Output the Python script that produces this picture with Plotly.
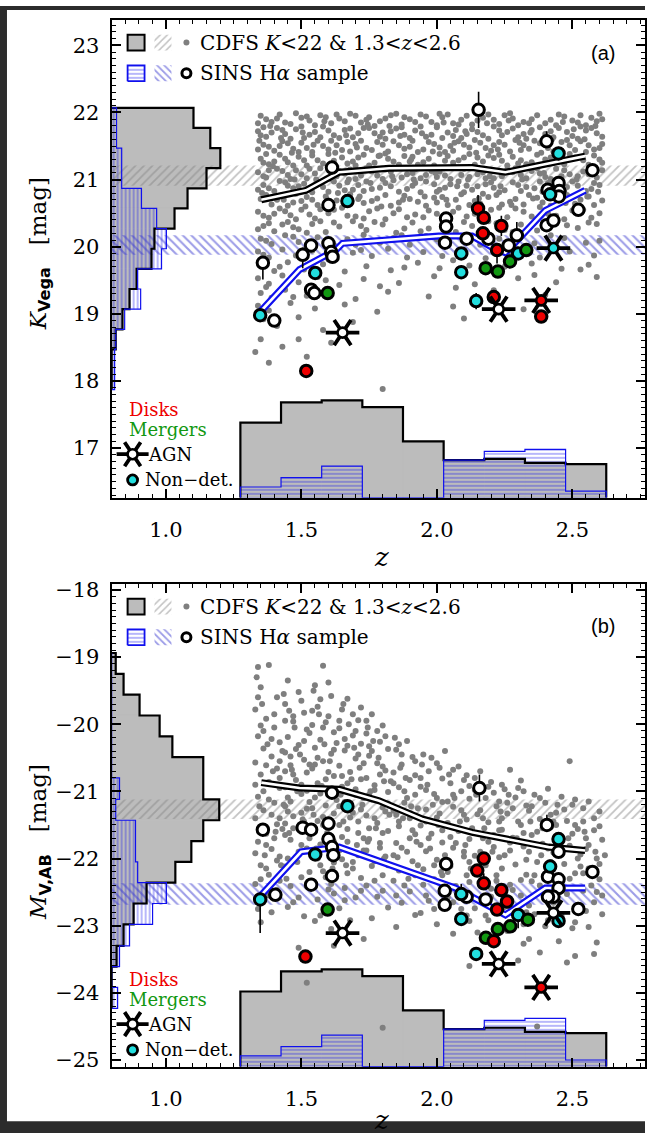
import plotly.graph_objects as go

W, H = 647, 1139

# ---------------- axis ranges ----------------
XR = [0.8, 2.768]
YRA = [16.26, 23.38]
YRB = [-25.10, -17.91]

# ---------------- histogram data ----------------
# redshift histogram (bottom of each panel); heights in axis units above the floor
z_bin_edges = [1.275, 1.425, 1.575, 1.725, 1.875, 2.025, 2.175, 2.325, 2.475, 2.625]
cdfs_zhist = [1.12, 1.42, 1.45, 1.35, 0.84, 0.56, 0.58, 0.52, 0.50]
sins_zhist = [0.16, 0.30, 0.47, 0.0, 0.0, 0.56, 0.69, 0.72, 0.10]

# K-band histogram (left of panel a); lengths in z units
k_bin_edges = [22.07, 21.77, 21.47, 21.17, 20.87, 20.57, 20.27, 19.97, 19.67, 19.37, 19.07, 18.77, 18.47, 18.17, 17.87]
cdfs_khist = [0.302, 0.364, 0.401, 0.350, 0.280, 0.232, 0.158, 0.147, 0.092, 0.066, 0.040, 0.015, 0.0, 0.0]
sins_khist = [0.018, 0.018, 0.037, 0.037, 0.110, 0.166, 0.202, 0.184, 0.096, 0.107, 0.048, 0.015, 0.011, 0.011]

# M_V histogram (left of panel b)
m_bin_edges = [-18.94, -19.25, -19.56, -19.87, -20.18, -20.49, -20.80, -21.12, -21.43, -21.74, -22.05,
               -22.36, -22.67, -22.98, -23.30, -23.61, -23.92, -24.23]
cdfs_mhist = [0.015, 0.044, 0.103, 0.177, 0.224, 0.338, 0.338, 0.397, 0.338, 0.294, 0.235, 0.129, 0.081,
              0.044, 0.018, 0.0, 0.0]
sins_mhist = [0.0, 0.0, 0.0, 0.0, 0.0, 0.0, 0.029, 0.015, 0.088, 0.088, 0.096, 0.202, 0.151, 0.066,
              0.029, 0.0, 0.022]

# median +/- scatter bands
band_a_cdfs = [20.91, 21.21]
band_a_sins = [19.88, 20.17]
band_b_cdfs = [-21.41, -21.12]
band_b_sins = [-22.69, -22.37]

# running medians
med_a_cdfs_z = [1.352, 1.517, 1.640, 1.824, 2.130, 2.253, 2.375, 2.547]
med_a_cdfs_y = [20.70, 20.84, 21.11, 21.17, 21.18, 21.11, 21.21, 21.35]
med_a_sins_z = [1.346, 1.493, 1.627, 1.652, 2.007, 2.130, 2.204, 2.253, 2.314, 2.400, 2.547]
med_a_sins_y = [19.02, 19.66, 19.95, 20.05, 20.16, 20.16, 19.99, 19.91, 20.17, 20.54, 20.84]
med_b_cdfs_z = [1.352, 1.493, 1.640, 1.787, 1.946, 2.130, 2.412, 2.547]
med_b_cdfs_y = [-20.87, -20.95, -20.97, -21.14, -21.41, -21.61, -21.83, -21.88]
med_b_sins_z = [1.346, 1.499, 1.640, 2.068, 2.253, 2.400, 2.547]
med_b_sins_y = [-22.57, -21.90, -21.83, -22.44, -22.84, -22.44, -22.44]

# ---------------- CDFS galaxies (z, K) ----------------
cdfs_a_txt = """
1.35 21.95 1.39 21.86 1.42 21.97 1.46 21.83 1.50 21.92 1.53 21.88 1.57 21.96 1.61 21.84 1.64 21.91 1.68 21.98
1.72 21.85 1.75 21.93 1.79 21.87 1.83 21.96 1.87 21.82 1.90 21.90 1.94 21.97 1.98 21.86 2.02 21.93 2.06 21.84
2.11 21.95 2.15 21.88 2.19 21.97 2.23 21.83 2.28 21.91 2.32 21.86 2.37 21.96 2.42 21.89 2.47 21.94 2.52 21.85
2.57 21.92 2.60 21.98
1.34 21.72 1.37 21.64 1.41 21.77 1.44 21.68 1.48 21.75 1.51 21.62 1.55 21.71 1.58 21.79 1.62 21.66 1.66 21.74
1.69 21.63 1.73 21.77 1.77 21.69 1.81 21.61 1.85 21.76 1.88 21.67 1.92 21.73 1.96 21.64 2.00 21.78 2.04 21.70
2.09 21.62 2.13 21.75 2.17 21.66 2.21 21.79 2.26 21.71 2.30 21.63 2.35 21.74 2.40 21.68 2.45 21.77 2.50 21.65
2.55 21.73 2.59 21.69
1.36 21.52 1.40 21.43 1.43 21.57 1.47 21.46 1.50 21.55 1.54 21.41 1.58 21.50 1.61 21.58 1.65 21.44 1.70 21.53
1.74 21.47 1.78 21.56 1.82 21.42 1.86 21.51 1.91 21.58 1.95 21.45 1.99 21.53 2.03 21.41 2.08 21.57 2.12 21.48
2.16 21.55 2.20 21.43 2.25 21.52 2.29 21.59 2.34 21.46 2.38 21.54 2.43 21.42 2.49 21.51 2.53 21.57 2.58 21.45
2.61 21.53
1.35 21.31 1.38 21.23 1.42 21.37 1.45 21.26 1.49 21.34 1.52 21.21 1.56 21.29 1.60 21.38 1.67 21.24 1.71 21.33
1.75 21.21 1.79 21.36 1.84 21.27 1.88 21.35 1.93 21.22 1.97 21.31 2.01 21.38 2.06 21.25 2.10 21.33 2.14 21.22
2.19 21.36 2.24 21.28 2.28 21.34 2.33 21.23 2.37 21.37 2.46 21.27 2.51 21.33 2.56 21.22 2.60 21.30
1.34 21.11 1.37 21.03 1.41 21.16 1.45 21.07 1.48 21.14 1.52 21.02 1.55 21.09 1.63 21.05 1.68 21.15 1.72 21.06
1.76 21.12 1.80 21.01 1.85 21.17 1.89 21.08 1.94 21.02 1.98 21.13 2.03 21.06 2.07 21.18 2.12 21.04 2.17 21.11
2.21 21.02 2.26 21.15 2.31 21.07 2.35 21.13 2.40 21.04 2.44 21.16 2.49 21.08 2.54 21.12 2.59 21.03
1.36 20.92 1.40 20.83 1.44 20.96 1.47 20.87 1.51 20.94 1.54 20.81 1.58 20.89 1.62 20.97 1.66 20.84 1.71 20.92
1.76 20.86 1.81 20.95 1.86 20.82 1.91 20.91 1.96 20.97 2.01 20.85 2.05 20.93 2.10 20.81 2.15 20.90 2.20 20.96
2.25 20.84 2.30 20.92 2.36 20.87 2.41 20.95 2.47 20.83 2.52 20.91 2.57 20.86
1.35 20.71 1.39 20.63 1.43 20.77 1.47 20.66 1.52 20.74 1.56 20.62 1.63 20.69 1.68 20.78 1.73 20.65 1.78 20.72
1.83 20.61 1.88 20.76 1.93 20.67 1.99 20.73 2.04 20.62 2.09 20.78 2.14 20.68 2.19 20.74 2.24 20.63 2.29 20.71
2.34 20.77 2.39 20.66 2.45 20.72 2.51 20.64 2.56 20.75 2.61 20.69
1.34 20.52 1.38 20.43 1.42 20.57 1.46 20.47 1.50 20.55 1.55 20.42 1.60 20.50 1.65 20.58 1.70 20.45 1.75 20.53
1.81 20.41 1.86 20.56 1.92 20.48 1.97 20.54 2.03 20.43 2.08 20.58 2.14 20.49 2.20 20.55 2.26 20.44 2.32 20.52
2.38 20.59 2.44 20.46 2.50 20.54 2.57 20.43
1.36 20.31 1.40 20.23 1.45 20.37 1.49 20.26 1.54 20.34 1.59 20.22 1.64 20.30 1.69 20.38 1.74 20.25 1.80 20.33
1.85 20.21 1.91 20.36 1.97 20.27 2.02 20.34 2.07 20.22 2.13 20.31 2.19 20.38 2.25 20.25 2.31 20.33 2.37 20.24
2.44 20.36 2.52 20.28 2.59 20.34
1.35 20.12 1.39 20.04 1.44 20.17 1.49 20.07 1.56 20.14 1.62 20.02 1.67 20.11 1.73 20.18 1.79 20.06 1.84 20.13
1.90 20.03 1.96 20.16 2.03 20.08 2.09 20.14 2.16 20.03 2.23 20.12 2.30 20.18 2.36 20.05 2.47 20.13 2.55 20.06
1.34 19.93 1.38 19.84 1.43 19.96 1.48 19.87 1.54 19.94 1.63 19.82 1.69 19.91 1.76 19.86 1.82 19.97 1.89 19.84
1.95 19.92 2.02 19.86 2.10 19.95 2.18 19.83 2.27 19.91 2.38 19.84 2.49 19.93 2.58 19.87
1.35 19.72 1.40 19.64 1.45 19.77 1.51 19.66 1.58 19.74 1.66 19.63 1.74 19.71 1.83 19.65 1.93 19.76 2.01 19.68
2.12 19.72 2.21 19.64 2.35 19.75 2.46 19.67 2.56 19.73
1.34 19.53 1.38 19.45 1.43 19.57 1.49 19.47 1.56 19.55 1.64 19.43 1.73 19.52 1.86 19.46 1.99 19.56 2.14 19.44
2.30 19.53 2.44 19.47 2.59 19.55
1.35 19.31 1.39 19.24 1.44 19.36 1.52 19.27 1.61 19.34 1.70 19.22 1.82 19.33 1.97 19.26 2.21 19.35 2.40 19.28
1.34 19.12 1.38 19.05 1.46 19.16 1.55 19.08 1.66 19.14 1.78 19.03 2.06 19.11 2.32 19.07
1.36 18.92 1.41 18.82 1.49 18.95 1.58 18.76 1.69 18.88 2.10 18.93
1.35 18.62 1.43 18.51 1.52 18.36 1.61 18.57 1.38 18.27 1.33 18.43 1.49 18.62 1.80 17.88
1.37 21.90 1.44 21.85 1.48 21.99 1.55 21.81 1.59 21.93 1.66 21.87 1.70 21.95 1.77 21.80 1.81 21.91 1.85 21.98
1.92 21.86 1.96 21.94 2.00 21.81 2.04 21.97 2.09 21.89 2.13 21.82 2.17 21.92 2.25 21.96 2.30 21.81 2.35 21.90
2.40 21.84 2.45 21.97 2.50 21.88 2.55 21.81 2.59 21.87
1.36 21.78 1.39 21.70 1.46 21.61 1.53 21.67 1.60 21.73 1.64 21.62 1.71 21.69 1.75 21.77 1.79 21.64 1.83 21.72
1.90 21.62 1.94 21.79 1.98 21.67 2.02 21.62 2.07 21.74 2.11 21.68 2.19 21.61 2.24 21.66 2.28 21.76 2.33 21.61
2.38 21.78 2.43 21.63 2.48 21.71 2.53 21.79 2.61 21.64
1.38 21.49 1.45 21.54 1.52 21.47 1.56 21.58 1.63 21.51 1.68 21.42 1.72 21.58 1.76 21.44 1.80 21.52 1.88 21.46
1.93 21.41 1.97 21.56 2.01 21.48 2.06 21.43 2.10 21.52 2.14 21.59 2.18 21.47 2.23 21.56 2.27 21.42 2.32 21.51
2.36 21.58 2.41 21.47 2.46 21.56 2.51 21.44 2.56 21.51
1.37 21.38 1.40 21.27 1.47 21.21 1.54 21.36 1.58 21.24 1.65 21.33 1.69 21.27 1.73 21.37 1.77 21.25 1.82 21.31
1.86 21.22 1.91 21.34 1.95 21.26 1.99 21.21 2.04 21.35 2.08 21.29 2.12 21.38 2.17 21.27 2.21 21.32 2.26 21.21
2.31 21.29 2.35 21.26 2.42 21.33 2.49 21.38 2.54 21.29 2.58 21.36
1.36 21.05 1.43 21.13 1.50 21.08 1.57 21.17 1.61 21.01 1.66 21.09 1.74 21.17 1.78 21.06 1.83 21.12 1.87 21.03
1.92 21.15 1.96 21.07 2.01 21.12 2.05 21.01 2.10 21.16 2.15 21.08 2.19 21.14 2.24 21.05 2.29 21.17 2.33 21.02
2.38 21.09 2.42 21.01 2.47 21.14 2.52 21.05 2.57 21.16
1.38 20.87 1.42 20.98 1.49 20.90 1.56 20.95 1.60 20.82 1.64 20.91 1.69 20.85 1.74 20.97 1.79 20.88 1.84 20.99
1.89 20.86 1.94 20.81 1.99 20.93 2.03 20.88 2.08 20.97 2.13 20.85 2.18 20.93 2.23 20.81 2.28 20.96 2.33 20.89
2.39 20.82 2.44 20.91 2.50 20.97 2.55 20.83 2.60 20.92
1.37 20.77 1.45 20.61 1.50 20.68 1.59 20.75 1.66 20.64 1.71 20.71 1.81 20.77 1.86 20.66 1.96 20.61 2.02 20.74
2.12 20.62 2.17 20.79 2.27 20.67 2.37 20.73 2.42 20.61 2.48 20.77 2.58 20.62
1.36 20.46 1.44 20.53 1.53 20.48 1.62 20.55 1.73 20.42 1.84 20.50 1.95 20.44 2.06 20.52 2.17 20.41 2.29 20.57
2.41 20.49 2.54 20.55
1.38 20.35 1.47 20.29 1.57 20.38 1.72 20.31 1.88 20.27 2.05 20.29 2.22 20.35 2.41 20.27 2.56 20.36
1.34 21.84 1.41 21.91 1.52 21.94 1.63 21.97 1.74 21.89 1.88 21.93 2.01 21.98 2.08 21.82 2.21 21.89 2.27 21.99
2.34 21.84 2.44 21.81 2.53 21.96 2.61 21.90
1.35 21.66 1.43 21.74 1.50 21.79 1.57 21.63 1.68 21.76 1.80 21.70 1.87 21.78 2.06 21.65 2.15 21.71 2.23 21.73
2.32 21.68 2.42 21.72 2.52 21.61 2.57 21.77
1.34 21.45 1.42 21.50 1.49 21.41 1.60 21.45 1.67 21.56 1.84 21.57 1.90 21.49 2.05 21.50 2.21 21.51 2.31 21.44
2.40 21.55 2.48 21.59 2.55 21.41 2.60 21.47
1.36 21.25 1.44 21.31 1.51 21.29 1.62 21.28 1.70 21.21 1.81 21.39 1.90 21.27 2.03 21.28 2.15 21.33 2.23 21.37
2.30 21.24 2.40 21.30 2.47 21.23 2.61 21.25
1.38 21.14 1.46 21.01 1.53 21.16 1.64 21.13 1.70 21.01 1.81 21.15 1.91 21.10 2.00 21.04 2.09 21.07 2.18 21.02
2.28 21.11 2.37 21.17 2.46 21.05 2.56 21.08 2.61 21.14
1.34 20.85 1.45 20.91 1.53 20.86 1.67 20.96 1.73 20.83 1.83 20.90 1.92 20.95 2.00 20.82 2.11 20.91 2.21 20.88
2.31 20.83 2.38 20.97 2.48 20.89 2.58 20.95
1.41 20.70 1.48 20.79 1.54 20.70 1.61 20.63 1.76 20.68 1.90 20.71 2.00 20.66 2.07 20.70 2.16 20.64 2.22 20.77
2.32 20.63 2.44 20.79 2.53 20.70
1.40 20.49 1.48 20.41 1.57 20.56 1.67 20.46 1.78 20.57 1.89 20.44 2.00 20.49 2.11 20.45 2.23 20.58 2.35 20.45
2.47 20.41 2.60 20.50
1.34 20.26 1.43 20.33 1.52 20.21 1.62 20.36 1.77 20.37 1.94 20.23 2.10 20.37 2.28 20.22 2.48 20.32
1.37 20.09 1.47 20.15 1.59 20.08 1.70 20.03 1.87 20.17 2.00 20.11 2.20 20.08 2.42 20.17 2.60 20.09
1.36 19.88 1.42 19.70 1.51 19.96 1.60 19.81 1.72 19.95 1.88 19.69 2.06 19.80 2.25 19.70 2.43 19.96 2.53 19.66
1.37 19.40 1.47 19.25 1.59 19.50 1.79 19.41 2.07 19.39 2.36 19.58
1.345 21.58 1.385 21.80 1.425 21.62 1.465 21.40 1.505 21.70 1.545 21.52 1.585 21.87 1.625 21.40 1.665 21.66
1.705 21.48 1.745 21.82 1.785 21.35 1.825 21.80 1.865 21.65 1.905 21.30 1.945 21.69 1.985 21.42 2.025 21.85
2.065 21.55 2.105 21.72 2.145 21.40 2.185 21.84 2.225 21.45 2.265 21.88 2.305 21.55 2.345 21.70 2.385 21.40
2.425 21.60 2.465 21.86 2.505 21.75 2.545 21.60 2.585 21.80
1.355 20.80 1.395 21.20 1.435 20.70 1.475 21.00 1.515 20.60 1.555 21.00 1.595 20.70 1.635 20.80 1.675 21.00
1.715 20.75 1.755 20.95 1.795 20.60 1.835 21.05 1.875 20.70 1.915 21.00 1.955 20.75 1.995 21.10 2.035 20.70
2.075 20.90 2.115 21.00 2.155 20.72 2.195 21.05 2.235 20.90 2.275 20.62 2.315 21.00 2.355 20.72 2.395 21.10
2.435 20.85 2.475 20.65 2.515 21.00 2.555 20.75 2.595 20.82
"""

cdfs_b_txt = """
1.34 -19.15 1.38 -19.12 1.35 -19.45 1.41 -19.60 1.33 -19.78 1.37 -19.92 1.40 -20.05 1.34 -20.18 1.42 -20.27
1.36 -20.36 1.39 -20.48 1.33 -20.57 1.41 -20.66 1.35 -20.75 1.38 -20.86 1.42 -20.95 1.34 -21.08 1.40 -21.17
1.36 -21.28 1.33 -21.40 1.41 -21.49 1.37 -21.63 1.34 -21.75 1.39 -21.86 1.42 -21.97 1.35 -22.10 1.38 -22.24
1.33 -22.38 1.41 -22.47 1.36 -22.62 1.39 -22.80 1.35 -22.95
1.45 -19.35 1.49 -19.52 1.44 -19.70 1.51 -19.83 1.47 -19.96 1.52 -20.08 1.45 -20.19 1.49 -20.31 1.44 -20.42
1.51 -20.53 1.46 -20.61 1.52 -20.72 1.48 -20.83 1.44 -20.94 1.50 -21.04 1.46 -21.15 1.52 -21.26 1.47 -21.37
1.44 -21.48 1.50 -21.60 1.46 -21.72 1.52 -21.85 1.48 -21.98 1.44 -22.12 1.50 -22.28 1.46 -22.41 1.49 -22.58
1.45 -22.72 1.51 -22.86
1.58 -19.13 1.55 -19.42 1.61 -19.58 1.56 -19.74 1.60 -19.88 1.54 -20.01 1.62 -20.12 1.57 -20.23 1.55 -20.35
1.61 -20.44 1.58 -20.55 1.54 -20.66 1.62 -20.77 1.56 -20.88 1.60 -20.97 1.55 -21.09 1.59 -21.21 1.62 -21.33
1.56 -21.44 1.54 -21.58 1.61 -21.67 1.57 -21.79 1.55 -21.93 1.62 -22.06 1.58 -22.19 1.54 -22.33 1.60 -22.46
1.56 -22.61 1.59 -22.77 1.55 -22.93 1.61 -23.05
1.67 -19.62 1.65 -19.78 1.71 -19.94 1.64 -20.06 1.69 -20.17 1.72 -20.29 1.66 -20.39 1.70 -20.51 1.64 -20.62
1.68 -20.71 1.72 -20.82 1.65 -20.93 1.70 -21.05 1.66 -21.16 1.72 -21.27 1.68 -21.39 1.64 -21.50 1.71 -21.62
1.67 -21.75 1.73 -21.88 1.65 -22.01 1.69 -22.15 1.72 -22.29 1.66 -22.44 1.70 -22.58 1.64 -22.74 1.68 -22.92
1.76 -19.85 1.80 -20.02 1.74 -20.14 1.79 -20.26 1.82 -20.37 1.75 -20.47 1.78 -20.58 1.81 -20.69 1.74 -20.80
1.77 -20.91 1.82 -21.01 1.76 -21.12 1.80 -21.24 1.74 -21.36 1.78 -21.47 1.82 -21.59 1.75 -21.71 1.79 -21.84
1.81 -21.97 1.76 -22.11 1.80 -22.25 1.74 -22.40 1.78 -22.57 1.82 -22.73 1.76 -22.89
1.89 -20.25 1.85 -20.38 1.91 -20.49 1.87 -20.60 1.84 -20.72 1.90 -20.83 1.86 -20.94 1.92 -21.05 1.88 -21.17
1.84 -21.29 1.90 -21.40 1.86 -21.52 1.92 -21.64 1.85 -21.77 1.89 -21.90 1.91 -22.04 1.86 -22.18 1.84 -22.33
1.90 -22.49 1.87 -22.66 1.92 -22.84 1.85 -23.02
1.95 -20.45 2.00 -20.58 1.97 -20.70 2.02 -20.81 1.94 -20.93 1.99 -21.04 2.02 -21.16 1.96 -21.27 2.00 -21.39
1.94 -21.51 1.98 -21.63 2.02 -21.76 1.96 -21.89 2.00 -22.02 1.95 -22.16 1.99 -22.31 2.02 -22.47 1.97 -22.63
1.94 -22.81 2.00 -22.98
2.03 -20.40 2.08 -20.63 2.11 -20.76 2.05 -20.88 2.09 -21.00 2.12 -21.11 2.06 -21.23 2.10 -21.35 2.04 -21.47
2.08 -21.59 2.12 -21.71 2.06 -21.84 2.10 -21.97 2.05 -22.11 2.11 -22.25 2.07 -22.41 2.04 -22.58 2.09 -22.75
2.12 -22.93 2.06 -23.12
2.16 -20.70 2.20 -20.86 2.14 -20.98 2.18 -21.10 2.22 -21.22 2.15 -21.34 2.19 -21.46 2.23 -21.58 2.17 -21.70
2.21 -21.83 2.14 -21.96 2.18 -22.10 2.22 -22.25 2.16 -22.40 2.20 -22.57 2.14 -22.74 2.19 -22.92 2.15 -23.10
2.21 -23.28
2.27 -20.68 2.31 -20.84 2.25 -20.97 2.29 -21.09 2.33 -21.21 2.26 -21.33 2.30 -21.45 2.24 -21.57 2.28 -21.69
2.32 -21.82 2.25 -21.95 2.29 -22.09 2.33 -22.24 2.27 -22.39 2.31 -22.55 2.25 -22.72 2.30 -22.90 2.26 -23.08
2.32 -23.27
2.41 -20.96 2.36 -21.05 2.40 -21.17 2.34 -21.29 2.38 -21.41 2.42 -21.53 2.35 -21.65 2.39 -21.78 2.43 -21.91
2.37 -22.05 2.41 -22.19 2.35 -22.34 2.39 -22.50 2.43 -22.66 2.36 -22.83 2.40 -23.01 2.34 -23.20 2.38 -23.40
2.49 -20.55 2.46 -21.08 2.50 -21.20 2.44 -21.32 2.48 -21.44 2.52 -21.56 2.45 -21.68 2.49 -21.81 2.53 -21.94
2.47 -22.08 2.51 -22.22 2.44 -22.37 2.48 -22.53 2.52 -22.69 2.46 -22.86 2.50 -23.04 2.45 -23.23 2.51 -23.45
2.56 -21.15 2.60 -21.30 2.54 -21.45 2.58 -21.58 2.61 -21.72 2.55 -21.86 2.59 -22.00 2.56 -22.15 2.60 -22.31
2.54 -22.48 2.58 -22.65 2.61 -22.83 2.56 -23.02 2.59 -23.25
1.35 -20.02 1.39 -20.22 1.43 -20.40 1.37 -20.61 1.42 -20.80 1.36 -21.00 1.44 -21.22 1.39 -21.35 1.43 -21.56
1.37 -21.80 1.41 -22.03 1.35 -22.31 1.47 -19.88 1.53 -20.13 1.48 -20.37 1.53 -20.60 1.47 -20.75 1.52 -20.99
1.45 -21.09 1.50 -21.32 1.47 -21.55 1.53 -21.70 1.49 -21.90 1.53 -22.20 1.57 -19.63 1.59 -19.97 1.63 -20.28
1.56 -20.50 1.60 -20.71 1.57 -21.03 1.63 -21.13 1.58 -21.38 1.60 -21.55 1.63 -21.87 1.57 -22.10 1.61 -22.38
1.69 -19.85 1.66 -20.22 1.71 -20.45 1.67 -20.88 1.73 -21.10 1.69 -21.32 1.65 -21.68 1.71 -21.95 1.67 -22.22
1.78 -20.10 1.75 -20.33 1.80 -20.63 1.77 -20.98 1.81 -21.30 1.75 -21.55 1.79 -21.77 1.77 -22.04
1.87 -20.45 1.92 -20.76 1.88 -21.00 1.85 -21.35 1.91 -21.58 1.87 -21.84 1.93 -22.10
2.01 -20.65 1.96 -20.98 2.01 -21.33 1.97 -21.70 2.03 -21.95 1.95 -22.39
2.10 -20.83 2.06 -21.05 2.11 -21.42 2.07 -21.77 2.12 -22.05 2.09 -22.50
2.19 -20.93 2.23 -21.15 2.17 -21.40 2.21 -21.65 2.16 -21.90 2.22 -22.33 2.18 -22.85
2.30 -20.95 2.26 -21.17 2.31 -21.50 2.27 -21.76 2.33 -22.02 2.28 -22.47 2.32 -22.98
2.38 -21.10 2.42 -21.35 2.37 -21.60 2.41 -21.85 2.36 -22.25 2.42 -22.58
2.47 -21.27 2.51 -21.50 2.46 -21.75 2.52 -22.00 2.47 -22.45 2.53 -22.80
2.58 -21.40 2.55 -21.70 2.60 -22.08 2.57 -22.40 2.61 -22.55
1.80 -24.52 2.37 -24.50 1.52 -23.85 1.49 -23.33 2.12 -23.60 2.58 -23.42 2.30 -23.52 2.48 -23.55 1.73 -23.20
1.62 -23.30
1.34 -19.60 1.40 -19.85 1.36 -20.10 1.42 -20.55 1.33 -20.90 1.38 -21.12 1.42 -21.40 1.35 -21.58 1.40 -21.70
1.33 -21.92 1.37 -22.15 1.42 -22.33 1.38 -22.55 1.34 -22.75
1.50 -19.65 1.44 -19.95 1.51 -20.25 1.46 -20.48 1.44 -20.70 1.50 -20.90 1.53 -21.16 1.45 -21.30 1.51 -21.45
1.44 -21.65 1.50 -21.80 1.45 -22.00 1.52 -22.40 1.47 -22.65
1.60 -19.38 1.54 -19.80 1.58 -20.05 1.62 -20.38 1.55 -20.60 1.59 -20.82 1.62 -21.00 1.54 -21.25 1.58 -21.50
1.62 -21.75 1.56 -22.00 1.59 -22.28 1.62 -22.52 1.57 -22.85
1.72 -19.75 1.64 -19.95 1.70 -20.10 1.67 -20.32 1.73 -20.58 1.65 -20.77 1.70 -20.97 1.64 -21.22 1.71 -21.45
1.67 -21.56 1.73 -21.70 1.64 -21.88 1.69 -22.05 1.72 -22.48 1.66 -22.62
1.74 -19.95 1.81 -20.18 1.76 -20.40 1.79 -20.75 1.83 -20.85 1.75 -21.05 1.82 -21.18 1.77 -21.40 1.80 -21.62
1.74 -21.88 1.82 -22.10 1.77 -22.33 1.80 -22.48
1.86 -20.30 1.92 -20.55 1.84 -20.88 1.89 -21.10 1.93 -21.25 1.86 -21.45 1.90 -21.70 1.84 -21.95 1.92 -22.25
1.88 -22.40 1.85 -22.55
1.98 -20.50 1.94 -20.80 2.00 -21.10 1.96 -21.45 2.02 -21.58 1.94 -21.80 1.99 -22.10 2.02 -22.25 1.96 -22.55
1.99 -22.75
2.06 -20.68 2.12 -20.92 2.04 -21.15 2.09 -21.28 2.13 -21.55 2.05 -21.68 2.10 -21.90 2.04 -22.20 2.12 -22.35
2.06 -22.65 2.11 -22.85
2.14 -20.80 2.21 -21.02 2.16 -21.28 2.23 -21.45 2.14 -21.62 2.19 -21.75 2.23 -21.98 2.15 -22.20 2.20 -22.45
2.17 -22.65 2.22 -23.00
2.24 -20.90 2.32 -21.00 2.28 -21.25 2.24 -21.40 2.32 -21.62 2.27 -21.88 2.24 -22.15 2.31 -22.32 2.26 -22.60
2.33 -22.80
2.35 -21.22 2.43 -21.45 2.39 -21.55 2.34 -21.90 2.42 -22.05 2.38 -22.40 2.34 -22.70 2.41 -22.92
2.51 -21.12 2.44 -21.50 2.50 -21.63 2.45 -21.90 2.53 -22.12 2.49 -22.30 2.44 -22.62 2.51 -22.95
2.54 -21.25 2.60 -21.52 2.56 -21.80 2.62 -21.95 2.54 -22.22 2.59 -22.50 2.55 -22.78
1.335 -19.30 1.355 -19.70 1.375 -20.30 1.395 -20.70 1.345 -21.22 1.405 -21.60 1.365 -21.95 1.425 -22.10
1.385 -22.40 1.435 -19.55 1.455 -19.80 1.475 -20.05 1.495 -20.45 1.465 -20.68 1.485 -21.00 1.435 -21.20
1.505 -21.42 1.455 -21.62 1.485 -22.05 1.445 -22.30 1.545 -19.50 1.565 -19.85 1.585 -20.30 1.605 -20.55
1.575 -20.92 1.625 -21.05 1.545 -21.35 1.595 -21.62 1.555 -21.85 1.615 -22.15 1.655 -19.70 1.675 -20.00
1.695 -20.35 1.715 -20.65 1.685 -20.82 1.645 -21.05 1.725 -21.20 1.655 -21.45 1.705 -21.80 1.665 -22.10
1.745 -20.05 1.765 -20.25 1.785 -20.50 1.805 -20.85 1.755 -21.00 1.825 -21.35 1.775 -21.55 1.745 -21.75
1.805 -22.00 1.845 -20.20 1.865 -20.65 1.885 -20.80 1.905 -21.22 1.875 -21.40 1.925 -21.75 1.855 -21.98
1.895 -22.30 1.945 -20.60 1.965 -20.90 1.985 -21.20 2.005 -21.50 1.975 -21.85 2.015 -22.20 2.045 -20.75
2.065 -21.10 2.085 -21.45 2.105 -21.80 2.125 -22.15 2.145 -21.05 2.175 -21.55 2.205 -21.90 2.235 -21.30
2.265 -21.05 2.295 -21.70 2.345 -21.45 2.385 -21.95 2.445 -21.20 2.485 -21.70 2.545 -21.60 2.585 -21.90
"""

# ---------------- SINS galaxies: (z, value, err_plus, err_minus) ----------------
sins_a_open = [(2.154, 22.04, 0.27, 0.27), (2.405, 21.57, 0.15, 0.0), (1.613, 21.18, 0, 0), (2.574, 21.14, 0, 0),
               (1.600, 20.62, 0, 0), (2.449, 20.95, 0, 0), (2.452, 20.83, 0, 0), (2.409, 20.85, 0, 0),
               (2.450, 20.75, 0, 0), (2.522, 20.55, 0, 0), (2.405, 20.32, 0, 0), (2.430, 20.39, 0, 0),
               (2.034, 20.42, 0, 0), (2.034, 20.30, 0, 0), (2.030, 20.06, 0, 0), (2.110, 20.12, 0, 0),
               (2.295, 20.17, 0.2, 0.0), (2.265, 20.02, 0, 0), (2.190, 20.12, 0, 0), (1.600, 20.05, 0, 0),
               (1.610, 19.92, 0, 0), (1.615, 19.85, 0, 0), (1.536, 20.02, 0, 0), (1.505, 19.88, 0.0, 0.2),
               (1.358, 19.76, 0.0, 0.25), (1.536, 19.36, 0, 0), (1.548, 19.31, 0, 0), (1.400, 18.90, 0, 0)]
sins_a_cyan = [(1.348, 18.98, 0, 0), (1.551, 19.61, 0, 0), (1.670, 20.68, 0, 0), (2.090, 19.90, 0, 0),
               (2.090, 19.62, 0, 0), (2.300, 19.90, 0, 0), (2.145, 19.19, 0.12, 0.12), (2.418, 20.78, 0, 0),
               (2.449, 21.39, 0.1, 0.1)]
sins_a_green = [(1.597, 19.31, 0, 0), (2.180, 19.68, 0, 0), (2.225, 19.63, 0, 0), (2.270, 19.78, 0, 0),
                (2.330, 19.95, 0, 0)]
sins_a_red = [(2.152, 20.57, 0.2, 0.0), (2.173, 20.43, 0, 0), (2.238, 20.31, 0.15, 0.15), (2.170, 20.20, 0, 0),
              (2.222, 19.95, 0.0, 0.2), (2.210, 19.25, 0, 0), (2.385, 18.96, 0, 0), (1.518, 18.15, 0, 0)]
sins_a_agn = [(1.652, 18.72, "white"), (2.228, 19.07, "white"), (2.385, 19.20, "red"), (2.430, 19.98, "cyan")]

sins_b_open = [(2.157, -20.95, 0.2, 0.2), (1.613, -21.02, 0, 0), (1.358, -21.57, 0, 0), (1.505, -21.54, 0, 0),
               (1.536, -21.57, 0, 0), (1.600, -21.48, 0, 0), (1.600, -21.71, 0, 0), (1.613, -21.83, 0, 0),
               (1.618, -21.95, 0, 0), (1.613, -22.26, 0, 0), (1.536, -22.39, 0, 0), (1.404, -22.54, 0, 0),
               (2.406, -21.50, 0.15, 0.0), (2.449, -21.90, 0, 0), (2.574, -22.20, 0, 0), (2.034, -22.08, 0, 0),
               (2.029, -22.48, 0, 0), (2.029, -22.69, 0, 0), (2.110, -22.57, 0, 0), (2.180, -22.61, 0, 0),
               (2.410, -22.27, 0, 0), (2.449, -22.31, 0, 0), (2.449, -22.44, 0, 0), (2.430, -22.57, 0, 0),
               (2.410, -22.57, 0, 0), (2.522, -22.75, 0, 0)]
sins_b_cyan = [(1.348, -22.61, 0.0, 0.5), (1.551, -21.94, 0, 0), (1.670, -21.22, 0, 0), (2.090, -22.53, 0.15, 0.0),
               (2.090, -22.90, 0, 0), (2.145, -23.42, 0, 0), (2.300, -22.84, 0.0, 0.2), (2.418, -22.12, 0, 0),
               (2.449, -21.71, 0, 0), (2.449, -22.93, 0, 0)]
sins_b_green = [(1.597, -22.76, 0, 0), (2.225, -23.05, 0, 0), (2.181, -23.18, 0, 0), (2.271, -23.01, 0, 0),
                (2.336, -22.91, 0, 0)]
sins_b_red = [(1.515, -23.46, 0, 0), (2.173, -22.00, 0, 0), (2.149, -22.18, 0, 0), (2.173, -22.37, 0.15, 0.0),
              (2.238, -22.47, 0, 0), (2.259, -22.64, 0, 0), (2.222, -22.76, 0, 0), (2.210, -23.23, 0, 0)]
sins_b_agn = [(1.652, -23.11, "white"), (2.430, -22.81, "white"), (2.228, -23.57, "white"), (2.385, -23.92, "red")]

# ---------------- styling / geometry ----------------
PX_L, PX_R = 112, 647
PANELS = {
    "a": dict(top=14, bot=497, yr=YRA, xa="x", ya="y", leg_dy=0, low_dy=0, tag="(a)", tag_y=47,
              ytitle=(40, 250), ztitle_y=557),
    "b": dict(top=584, bot=1072, yr=YRB, xa="x2", ya="y2", leg_dy=570, low_dy=576, tag="(b)", tag_y=627,
              ytitle=(40, 845), ztitle_y=1126),
}
GRAY_FILL = "#bcbcbc"
DOT = "#7f7f7f"
BLUE = "#1010ee"
BAND_BLUE = "#3a3ad0"
CYAN = "#22dede"
RED = "#ee0000"
GREEN = "#129812"
FRAME = "#2c2c2c"
SERIF = "DejaVu Serif"


def parse(txt):
    v = txt.split()
    return [float(a) for a in v[0::2]], [float(b) for b in v[1::2]]


def xd(px):
    return XR[0] + (px - PX_L) / (PX_R - PX_L) * (XR[1] - XR[0])


def yd(py, p):
    return p["yr"][1] - (py - p["top"]) / (p["bot"] - p["top"]) * (p["yr"][1] - p["yr"][0])


def pdx(px):
    return px / W


def pdy(py):
    return 1 - py / H


fig = go.Figure()
annotations = []


def add(tr, p):
    tr.update(xaxis=p["xa"], yaxis=p["ya"], showlegend=False, hoverinfo="skip")
    fig.add_trace(tr)


def hatch_rect(p, x0, x1, y0, y1, shape, color, size=6, line=None, solidity=0.3):
    add(go.Scatter(x=[x0, x1, x1, x0, x0], y=[y0, y0, y1, y1, y0], mode="lines", fill="toself",
                   fillcolor="rgba(0,0,0,0)",
                   fillpattern=dict(shape=shape, fgcolor=color, bgcolor="rgba(0,0,0,0)", size=size,
                                    solidity=solidity, fillmode="overlay"),
                   line=dict(width=line[1] if line else 0, color=line[0] if line else "rgba(0,0,0,0)")), p)


def agn_marker(p, xs, ys, centers, big=21):
    for sym in ("y-left-open", "y-right-open"):
        add(go.Scatter(x=xs, y=ys, mode="markers",
                       marker=dict(symbol=sym, size=big, color="black", line=dict(width=3.8, color="black"))), p)
    add(go.Scatter(x=xs, y=ys, mode="markers",
                   marker=dict(symbol="circle", size=10, color=centers, line=dict(width=2.6, color="black"))), p)


def sins_trace(p, pts, fill):
    zs = [q[0] for q in pts]
    ys = [q[1] for q in pts]
    ep = [q[2] for q in pts]
    em = [q[3] for q in pts]
    add(go.Scatter(x=zs, y=ys, mode="markers",
                   error_y=dict(type="data", array=ep, arrayminus=em, symmetric=False, color="black",
                                thickness=1.6, width=0),
                   marker=dict(symbol="circle", size=11.5, color=fill, line=dict(width=3, color="black"))), p)


def build_panel(key, cdfs_txt, side_edges, cdfs_side, sins_side, band_c, band_s,
                med_cz, med_cy, med_sz, med_sy, s_open, s_cyan, s_green, s_red, s_agn):
    p = PANELS[key]
    ybase = p["yr"][0]
    # hatched bands
    hatch_rect(p, XR[0], XR[1], band_c[0], band_c[1], "/", "#858585")
    hatch_rect(p, XR[0], XR[1], band_s[0], band_s[1], "\\", BAND_BLUE, solidity=0.35)
    # side histogram (gray)
    centers = [(side_edges[i] + side_edges[i + 1]) / 2 for i in range(len(cdfs_side))]
    widths = [abs(side_edges[i] - side_edges[i + 1]) for i in range(len(cdfs_side))]
    add(go.Bar(orientation="h", y=centers, x=cdfs_side, width=widths, base=XR[0],
               marker=dict(color=GRAY_FILL, line=dict(width=1, color=GRAY_FILL))), p)
    # bottom histogram (gray)
    zc = [(z_bin_edges[i] + z_bin_edges[i + 1]) / 2 for i in range(len(cdfs_zhist))]
    zw = [z_bin_edges[i + 1] - z_bin_edges[i] for i in range(len(cdfs_zhist))]
    add(go.Bar(x=zc, y=cdfs_zhist, width=zw, base=ybase,
               marker=dict(color=GRAY_FILL, line=dict(width=1, color=GRAY_FILL))), p)
    # blue hatched histograms
    add(go.Bar(orientation="h", y=centers, x=sins_side, width=widths, base=XR[0],
               marker=dict(color="rgba(0,0,0,0)", line=dict(width=0),
                           pattern=dict(shape="|", fgcolor=BLUE, bgcolor="rgba(0,0,0,0)", size=4,
                                        solidity=0.3, fillmode="overlay"))), p)
    add(go.Bar(x=zc, y=sins_zhist, width=zw, base=ybase,
               marker=dict(color="rgba(0,0,0,0)", line=dict(width=0),
                           pattern=dict(shape="-", fgcolor=BLUE, bgcolor="rgba(0,0,0,0)", size=4,
                                        solidity=0.3, fillmode="overlay"))), p)

    # step outlines
    def side_steps(vals):
        xs, ys = [XR[0]], [side_edges[0]]
        for i, w in enumerate(vals):
            xs += [XR[0] + w, XR[0] + w]
            ys += [side_edges[i], side_edges[i + 1]]
        xs.append(XR[0])
        ys.append(side_edges[len(vals)])
        return xs, ys

    def bottom_steps(vals):
        xs, ys = [z_bin_edges[0]], [ybase]
        for i, h in enumerate(vals):
            xs += [z_bin_edges[i], z_bin_edges[i + 1]]
            ys += [ybase + h, ybase + h]
        xs.append(z_bin_edges[-1])
        ys.append(ybase)
        return xs, ys

    for vals, col, lw in ((cdfs_side, "black", 2.2), (sins_side, BLUE, 1.2)):
        sx, sy = side_steps(vals)
        add(go.Scatter(x=sx, y=sy, mode="lines", line=dict(color=col, width=lw)), p)
    for vals, col, lw in ((cdfs_zhist, "black", 2.2), (sins_zhist, BLUE, 1.2)):
        sx, sy = bottom_steps(vals)
        add(go.Scatter(x=sx, y=sy, mode="lines", line=dict(color=col, width=lw)), p)

    # CDFS dots
    cz, cy = parse(cdfs_txt)
    add(go.Scatter(x=cz, y=cy, mode="markers", marker=dict(size=6, color=DOT, line=dict(width=0))), p)

    # running medians (double lines)
    add(go.Scatter(x=med_cz, y=med_cy, mode="lines", line=dict(color="black", width=7)), p)
    add(go.Scatter(x=med_cz, y=med_cy, mode="lines", line=dict(color="white", width=2.6)), p)
    add(go.Scatter(x=med_sz, y=med_sy, mode="lines", line=dict(color=BLUE, width=7)), p)
    add(go.Scatter(x=med_sz, y=med_sy, mode="lines", line=dict(color="white", width=2.6)), p)

    # SINS galaxies
    sins_trace(p, s_open, "white")
    sins_trace(p, s_cyan, CYAN)
    sins_trace(p, s_green, GREEN)
    sins_trace(p, s_red, RED)
    agn_marker(p, [q[0] for q in s_agn], [q[1] for q in s_agn],
               [{"white": "white", "red": RED, "cyan": CYAN}[q[2]] for q in s_agn])

    # ---- upper-left key ----
    dy = p["leg_dy"]
    r1, r2 = 37 + dy, 68 + dy
    h = 8
    fig.add_shape(type="rect", xref=p["xa"], yref=p["ya"], x0=xd(128), x1=xd(145), y0=yd(r1 + h, p),
                  y1=yd(r1 - h, p), fillcolor=GRAY_FILL, line=dict(color="black", width=2), layer="above")
    hatch_rect(p, xd(155), xd(172), yd(r1 + h, p), yd(r1 - h, p), "/", "#858585", size=5)
    add(go.Scatter(x=[xd(187)], y=[yd(r1, p)], mode="markers", marker=dict(size=6, color=DOT)), p)
    hatch_rect(p, xd(128), xd(145), yd(r2 + h, p), yd(r2 - h, p), "-", BLUE, size=4, line=(BLUE, 1.8))
    hatch_rect(p, xd(155), xd(172), yd(r2 + h, p), yd(r2 - h, p), "\\", BAND_BLUE, size=5, solidity=0.35)
    add(go.Scatter(x=[xd(187)], y=[yd(r2, p)], mode="markers",
                   marker=dict(size=9, color="white", line=dict(width=3, color="black"))), p)
    annotations.append(dict(x=pdx(199), y=pdy(r1), xref="paper", yref="paper", xanchor="left", yanchor="middle",
                            showarrow=False, font=dict(family=SERIF, size=20, color="black"),
                            text="CDFS <i>K</i>&lt;22 &amp; 1.3&lt;<i>z</i>&lt;2.6"))
    annotations.append(dict(x=pdx(199), y=pdy(r2), xref="paper", yref="paper", xanchor="left", yanchor="middle",
                            showarrow=False, font=dict(family=SERIF, size=20, color="black"),
                            text="SINS H<i>α</i> sample"))
    # panel tag
    annotations.append(dict(x=pdx(605), y=pdy(p["tag_y"]), xref="paper", yref="paper", xanchor="center",
                             yanchor="middle", showarrow=False, text=p["tag"],
                             font=dict(family="Liberation Sans", size=20, color="black")))

    # ---- lower-left key ----
    ly = p["low_dy"]
    annotations.append(dict(x=pdx(127), y=pdy(408 + ly), xref="paper", yref="paper", xanchor="left",
                            yanchor="middle", showarrow=False, text="Disks",
                            font=dict(family=SERIF, size=18, color=RED)))
    annotations.append(dict(x=pdx(127), y=pdy(428 + ly), xref="paper", yref="paper", xanchor="left",
                            yanchor="middle", showarrow=False, text="Mergers",
                            font=dict(family=SERIF, size=18, color=GREEN)))
    agn_marker(p, [xd(133)], [yd(453 + ly, p)], ["white"], big=20)
    annotations.append(dict(x=pdx(146), y=pdy(453 + ly), xref="paper", yref="paper", xanchor="left",
                            yanchor="middle", showarrow=False, text="AGN",
                            font=dict(family=SERIF, size=18, color="black")))
    add(go.Scatter(x=[xd(133)], y=[yd(479 + ly, p)], mode="markers",
                   marker=dict(size=10, color=CYAN, line=dict(width=2.8, color="black"))), p)
    annotations.append(dict(x=pdx(143), y=pdy(479 + ly), xref="paper", yref="paper", xanchor="left",
                            yanchor="middle", showarrow=False, text="Non\u2212det.",
                            font=dict(family=SERIF, size=18, color="black")))

    # axis titles
    tx, ty = p["ytitle"]
    if key == "a":
        ytxt = ("<i>K</i><sub><span style='font-family:DejaVu Sans;font-weight:bold'>Vega</span></sub>"
                "&nbsp;&nbsp;&nbsp;[mag]")
    else:
        ytxt = ("<i>M</i><sub><span style='font-family:DejaVu Sans;font-weight:bold'>V,AB</span></sub>"
                "&nbsp;&nbsp;&nbsp;[mag]")
    annotations.append(dict(x=pdx(tx), y=pdy(ty), xref="paper", yref="paper", xanchor="center",
                            yanchor="middle", showarrow=False, textangle=-90, text=ytxt,
                            font=dict(family=SERIF, size=23, color="black")))
    annotations.append(dict(x=pdx(383), y=pdy(p["ztitle_y"]), xref="paper", yref="paper", xanchor="center",
                            yanchor="middle", showarrow=False, text="<i>z</i>",
                            font=dict(family=SERIF, size=26, color="black")))


build_panel("a", cdfs_a_txt, k_bin_edges, cdfs_khist, sins_khist, band_a_cdfs, band_a_sins,
            med_a_cdfs_z, med_a_cdfs_y, med_a_sins_z, med_a_sins_y,
            sins_a_open, sins_a_cyan, sins_a_green, sins_a_red, sins_a_agn)
build_panel("b", cdfs_b_txt, m_bin_edges, cdfs_mhist, sins_mhist, band_b_cdfs, band_b_sins,
            med_b_cdfs_z, med_b_cdfs_y, med_b_sins_z, med_b_sins_y,
            sins_b_open, sins_b_cyan, sins_b_green, sins_b_red, sins_b_agn)

axis_common = dict(showline=True, linewidth=2, linecolor="black", mirror="allticks", ticks="inside",
                   ticklen=9, tickwidth=1.5, tickcolor="black", showgrid=False, zeroline=False,
                   tickfont=dict(family=SERIF, size=21, color="black"))
xdom = [PX_L / W, 1.0]
for key, xname, yname in (("a", "xaxis", "yaxis"), ("b", "xaxis2", "yaxis2")):
    p = PANELS[key]
    ydom = [1 - p["bot"] / H, 1 - p["top"] / H]
    fig.layout[xname] = dict(axis_common, domain=xdom, range=XR, anchor=p["ya"], tickmode="linear", tick0=1.0,
                             dtick=0.5, tickformat=".1f", ticklabelstandoff=12,
                             minor=dict(ticks="inside", ticklen=4, tickwidth=1.2, tickcolor="black",
                                        dtick=0.05, tick0=1.0, showgrid=False))
    fig.layout[yname] = dict(axis_common, domain=ydom, range=p["yr"], anchor=p["xa"], tickmode="linear",
                             tick0=0, dtick=1, ticklabelstandoff=6,
                             minor=dict(ticks="inside", ticklen=4, tickwidth=1.2, tickcolor="black",
                                        dtick=0.1, tick0=0, showgrid=False))

fig.update_layout(
    width=W, height=H, margin=dict(l=0, r=0, t=0, b=0),
    paper_bgcolor="white", plot_bgcolor="white", barmode="overlay", showlegend=False,
    annotations=annotations,
)
# dark photo frame on the left, top and bottom edges
for x0, x1, y0, y1 in ((0, 7, 0, H), (0, W, 0, 4), (0, W, 1127, H)):
    fig.add_shape(type="rect", xref="paper", yref="paper", x0=x0 / W, x1=x1 / W, y0=1 - y1 / H, y1=1 - y0 / H,
                  fillcolor=FRAME, line=dict(width=0), layer="below")

fig.write_html("out.html", config={"displayModeBar": False},
               post_script=("document.body.style.margin='0';document.body.style.overflow='hidden';"
                            "document.documentElement.style.overflow='hidden';"))
